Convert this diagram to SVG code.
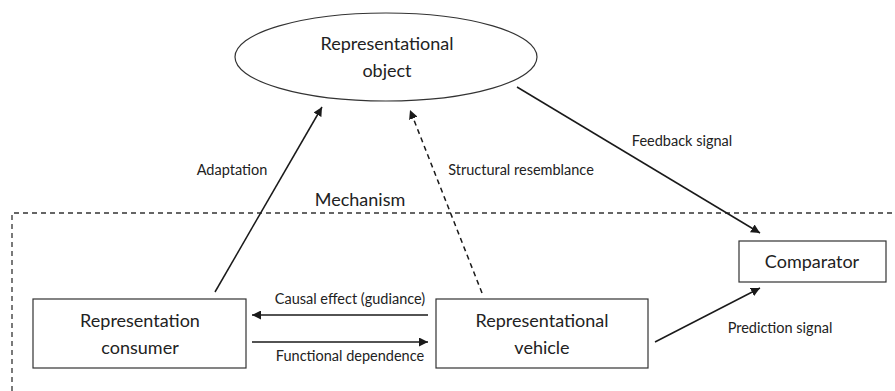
<svg xmlns="http://www.w3.org/2000/svg" width="895" height="391" viewBox="0 0 895 391">
<style>
.node{fill:#fff;stroke:#333;stroke-width:1.2}
.t{font-family:Lato,"Open Sans",sans-serif;font-size:18px;fill:#222;text-anchor:middle}
.s{font-family:Lato,"Open Sans",sans-serif;font-size:14.5px;fill:#222;text-anchor:middle}
.c{fill:none;stroke:#1a1a1a;stroke-width:1.5}
.d{stroke-dasharray:5,4}
</style>
<defs>
<marker id="ah" viewBox="0 0 10 10" refX="10" refY="5" markerWidth="9" markerHeight="9" markerUnits="userSpaceOnUse" orient="auto"><path d="M0,0L10,5L0,10z" fill="#1a1a1a"/></marker>
</defs>
<rect width="895" height="391" fill="#fff"/>
<g id="mechanism">
<path d="M12,391V213H895" fill="none" stroke="#333" stroke-width="1.3" stroke-dasharray="5,4"/>
<text class="t" x="360" y="206">Mechanism</text>
</g>
<g id="object">
<ellipse class="node" cx="386" cy="57" rx="151" ry="44"/>
<text class="t" x="387" y="50">Representational</text>
<text class="t" x="387" y="77">object</text>
</g>
<g id="consumer">
<rect class="node" x="33" y="299" width="213" height="69"/>
<text class="t" x="140" y="327">Representation</text>
<text class="t" x="140" y="354">consumer</text>
</g>
<g id="vehicle">
<rect class="node" x="436" y="299" width="212" height="69"/>
<text class="t" x="542" y="327">Representational</text>
<text class="t" x="542" y="354">vehicle</text>
</g>
<g id="comparator">
<rect class="node" x="739" y="241" width="147" height="41"/>
<text class="t" x="812" y="268">Comparator</text>
</g>
<g id="connectors">
<line class="c" x1="215" y1="292" x2="322" y2="107" marker-end="url(#ah)"/>
<line class="c d" x1="482" y1="293" x2="410" y2="110" marker-end="url(#ah)"/>
<line class="c" x1="517" y1="87" x2="760" y2="233" marker-end="url(#ah)"/>
<line class="c" x1="428" y1="315" x2="252" y2="315" marker-end="url(#ah)"/>
<line class="c" x1="252" y1="342" x2="428" y2="342" marker-end="url(#ah)"/>
<line class="c" x1="655" y1="342" x2="760" y2="288" marker-end="url(#ah)"/>
<text class="s" x="232" y="175">Adaptation</text>
<text class="s" x="521" y="175">Structural resemblance</text>
<text class="s" x="682" y="146">Feedback signal</text>
<text class="s" x="350" y="304">Causal effect (gudiance)</text>
<text class="s" x="350" y="361">Functional dependence</text>
<text class="s" x="780" y="333">Prediction signal</text>
</g>
</svg>
